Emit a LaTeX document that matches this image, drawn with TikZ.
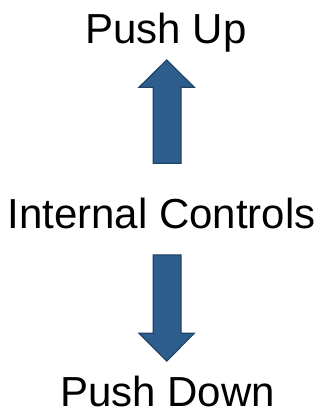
\documentclass[tikz,border=0pt]{standalone}
\usepackage{fontspec}
\setmainfont{Liberation Sans}
\definecolor{arrowfill}{RGB}{46,94,142}
\definecolor{arrowline}{RGB}{32,68,104}
\begin{document}
\begin{tikzpicture}[x=1pt,y=1pt,
  lbl/.style={font=\fontsize{42}{50}\selectfont, anchor=base, inner sep=0pt, text depth=0pt},
  fatarrow/.style={fill=arrowfill, draw=arrowline, line width=1.2pt, line join=miter}]
\useasboundingbox (0,0) rectangle (325,415);
\node[lbl] (up) at (166,371.7) {Push Up};
\node[lbl] (ic) at (161.5,186.7) {Internal Controls};
\node[lbl] (down) at (167.5,9) {Push Down};
% up arrow
\draw[fatarrow] (153.3,251.7) -- (153.3,327.7) -- (139,327.7) -- (166.7,355) -- (194.3,327.7) -- (181,327.7) -- (181,251.7) -- cycle;
% down arrow
\draw[fatarrow] (153.3,160) -- (153.3,81.7) -- (139,81.7) -- (166.7,54) -- (194.3,81.7) -- (181,81.7) -- (181,160) -- cycle;
\end{tikzpicture}
\end{document}
